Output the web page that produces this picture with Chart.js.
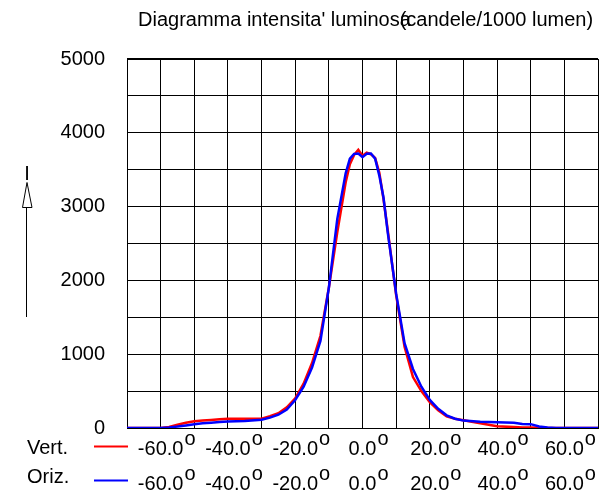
<!DOCTYPE html>
<html>
<head>
<meta charset="utf-8">
<script src="https://cdn.jsdelivr.net/npm/chart.js@4.4.0/dist/chart.umd.min.js"></script>
<style>
  html, body { margin: 0; padding: 0; background: #ffffff; }
  #wrap { width: 602px; height: 491px; }
</style>
</head>
<body>
<div id="wrap"><canvas id="chart" width="602" height="491"></canvas></div>
<script>
// angles (degrees) where the curves are sampled
const angles = [-70, -65, -60, -57.5, -55, -52.5, -50, -47.5, -45, -42.5, -40, -35, -30, -27.5, -25, -22.5,
  -20, -17.5, -15, -12.5, -10, -7.5, -5, -3.75, -2.5, -1.25, 0, 1.25, 2.5, 3.75, 5, 6.25, 7.5,
  10, 12.5, 15, 17.5, 20, 22.5, 25, 27.5, 30, 35, 40, 45, 47.5, 50, 52.5, 55, 57.5, 60, 65, 70];

// Vert. (red)
const vertValues = [0, 0, 0, 15, 45, 72, 90, 100, 110, 118, 125, 127, 127, 160, 200, 280,
  400, 600, 880, 1250, 1900, 2650, 3330, 3575, 3700, 3770, 3690, 3730, 3710, 3660, 3460, 3100, 2680,
  1800, 1100, 690, 500, 350, 240, 158, 125, 104, 65, 23, 12, 8, 6, 3, 0, 0, 0, 0, 0];

// Oriz. (blue)
const orizValues = [0, 0, 0, 8, 20, 35, 50, 65, 72, 80, 87, 95, 113, 140, 180, 250,
  380, 560, 820, 1180, 1900, 2830, 3450, 3650, 3715, 3720, 3670, 3715, 3720, 3650, 3420, 3120, 2650,
  1820, 1150, 800, 560, 380, 260, 172, 125, 100, 85, 78, 70, 55, 52, 20, 8, 0, 0, 0, 0];

const xLabelValues = [-60, -40, -20, 0, 20, 40, 60];
const seriesNames = ['Vert.', 'Oriz.'];
const seriesColors = ['#ff0000', '#0000ff'];

const FONT = "'Liberation Sans', Arial, sans-serif";
Chart.defaults.font.family = FONT;
Chart.defaults.color = '#000000';

const toPoints = vals => angles.map((a, i) => ({ x: a, y: vals[i] }));

// extra text: title, I-arrow, the two label rows with legend samples
const decorPlugin = {
  id: 'decor',
  afterDraw(chart) {
    const { ctx, chartArea } = chart;
    const xs = chart.scales.x;
    ctx.save();
    ctx.fillStyle = '#000';
    ctx.font = '20px ' + FONT;
    ctx.textBaseline = 'alphabetic';

    // title (second half drawn over the end of the first, as in the original)
    const t1 = "Diagramma intensita' luminosa";
    const t2 = '(candele/1000 lumen)';
    const tx = chartArea.left + 11;
    ctx.textAlign = 'left';
    ctx.fillText(t1, tx, 26);
    ctx.fillText(t2, tx + ctx.measureText("Diagramma intensita' luminos").width, 26);

    // thick top border
    ctx.strokeStyle = '#000';
    ctx.lineWidth = 2;
    ctx.beginPath();
    ctx.moveTo(chartArea.left, chartArea.top);
    ctx.lineTo(chartArea.right, chartArea.top);
    ctx.stroke();

    // "I" with arrow
    ctx.textAlign = 'center';
    ctx.fillText('I', 27, 180);
    ctx.lineWidth = 1;
    ctx.beginPath();
    ctx.moveTo(27, 182.5);
    ctx.lineTo(32, 207.5);
    ctx.lineTo(22.5, 207.5);
    ctx.closePath();
    ctx.fillStyle = '#fff';
    ctx.fill();
    ctx.stroke();
    ctx.beginPath();
    ctx.moveTo(26.5, 207.5);
    ctx.lineTo(26.5, 317);
    ctx.stroke();

    // label rows
    const rows = [
      { base: 454, textBase: 455, lineY: 446.5 },
      { base: 483, textBase: 490, lineY: 480.5 }
    ];
    rows.forEach((r, i) => {
      ctx.fillStyle = '#000';
      ctx.textAlign = 'left';
      ctx.fillText(seriesNames[i], 27, r.base);
      ctx.strokeStyle = seriesColors[i];
      ctx.lineWidth = 2;
      ctx.beginPath();
      ctx.moveTo(94, r.lineY);
      ctx.lineTo(chartArea.left + 1, r.lineY);
      ctx.stroke();
      xLabelValues.forEach(v => {
        const px = xs.getPixelForValue(v);
        const s = v.toFixed(1);
        const w = ctx.measureText(s).width;
        ctx.textAlign = 'center';
        ctx.fillText(s, px, r.textBase);
        ctx.textAlign = 'left';
        ctx.fillText('o', px + w / 2 + 1, r.textBase - 10);
      });
    });
    ctx.restore();
  }
};

new Chart(document.getElementById('chart'), {
  type: 'line',
  data: {
    datasets: [
      {
        label: seriesNames[0],
        data: toPoints(vertValues),
        borderColor: seriesColors[0],
        borderWidth: 2.5,
        pointRadius: 0,
        tension: 0,
        order: 2
      },
      {
        label: seriesNames[1],
        data: toPoints(orizValues),
        borderColor: seriesColors[1],
        borderWidth: 2.5,
        pointRadius: 0,
        tension: 0,
        order: 1
      }
    ]
  },
  options: {
    responsive: false,
    animation: false,
    events: [],
    layout: { padding: { left: 60, right: 4, top: 59, bottom: 0 } },
    plugins: {
      legend: { display: false },
      tooltip: { enabled: false }
    },
    scales: {
      x: {
        type: 'linear',
        min: -70,
        max: 70,
        ticks: { stepSize: 10, display: false },
        grid: { color: '#000', lineWidth: 1, drawTicks: false },
        border: { color: '#000', width: 1 },
        afterFit(s) { s.height = 63; }
      },
      y: {
        min: 0,
        max: 5000,
        ticks: {
          stepSize: 500,
          padding: 22,
          font: { size: 20 },
          color: '#000',
          callback: v => (v % 1000 === 0 ? String(v) : '')
        },
        grid: { color: '#000', lineWidth: 1, drawTicks: false },
        border: { color: '#000', width: 1 },
        afterFit(s) { s.width = 67; }
      }
    }
  },
  plugins: [decorPlugin]
});
</script>
</body>
</html>
